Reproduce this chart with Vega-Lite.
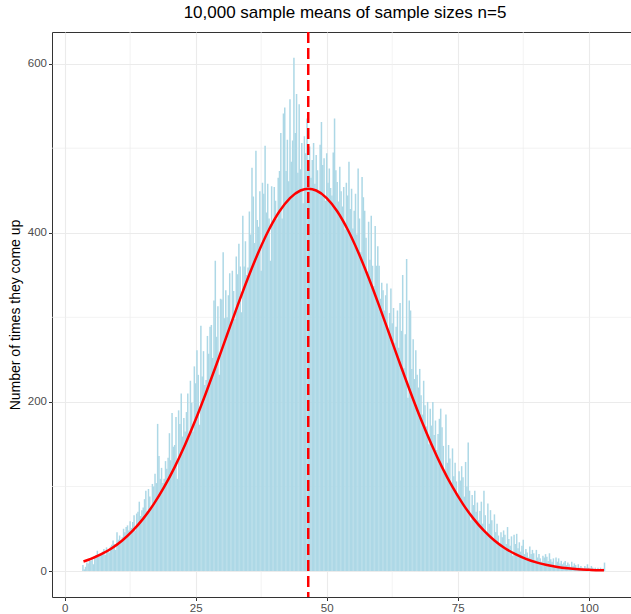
{
  "$schema": "https://vega.github.io/schema/vega-lite/v6.json",
  "width": 579,
  "height": 565,
  "autosize": {"type": "none"},
  "padding": {"left": 52, "top": 32, "right": 0, "bottom": 17},
  "background": "white",
  "title": {
    "text": "10,000 sample means of sample sizes n=5",
    "font": "Liberation Sans",
    "fontSize": 17,
    "fontWeight": "normal",
    "color": "black",
    "anchor": "middle",
    "dx": 3.5,
    "offset": 9
  },
  "config": {
    "view": {"stroke": "#333333", "strokeWidth": 1},
    "axis": {
      "labelFont": "Liberation Sans",
      "titleFont": "Liberation Sans",
      "labelColor": "#4D4D4D",
      "labelFontSize": 11.5,
      "tickColor": "#333333",
      "tickSize": 3.5,
      "tickWidth": 1,
      "labelPadding": 2,
      "domain": false,
      "grid": true,
      "gridColor": "#EBEBEB",
      "gridWidth": 1.1
    }
  },
  "datasets": {
    "bars": [
      {"x":3.5,"n":7},{"x":3.75,"n":2},
      {"x":4,"n":5},{"x":4.25,"n":10},{"x":4.5,"n":9},{"x":4.75,"n":13},
      {"x":5,"n":12},{"x":5.25,"n":16},{"x":5.5,"n":8},{"x":5.75,"n":16},
      {"x":6,"n":19},{"x":6.25,"n":24},{"x":6.5,"n":17},{"x":6.75,"n":20},
      {"x":7,"n":20},{"x":7.25,"n":23},{"x":7.5,"n":26},{"x":7.75,"n":19},
      {"x":8,"n":28},{"x":8.25,"n":25},{"x":8.5,"n":22},{"x":8.75,"n":29},
      {"x":9,"n":31},{"x":9.25,"n":36},{"x":9.5,"n":32},{"x":9.75,"n":25},
      {"x":10,"n":46},{"x":10.25,"n":37},{"x":10.5,"n":42},{"x":10.75,"n":35},
      {"x":11,"n":40},{"x":11.25,"n":50},{"x":11.5,"n":46},{"x":11.75,"n":52},
      {"x":12,"n":54},{"x":12.25,"n":48},{"x":12.5,"n":59},{"x":12.75,"n":51},
      {"x":13,"n":58},{"x":13.25,"n":66},{"x":13.5,"n":48},{"x":13.75,"n":68},
      {"x":14,"n":70},{"x":14.25,"n":82},{"x":14.5,"n":65},{"x":14.75,"n":72},
      {"x":15,"n":75},{"x":15.25,"n":85},{"x":15.5,"n":95},{"x":15.75,"n":71},
      {"x":16,"n":97},{"x":16.25,"n":88},{"x":16.5,"n":76},{"x":16.75,"n":103},
      {"x":17,"n":100},{"x":17.25,"n":115},{"x":17.5,"n":104},{"x":17.75,"n":174},
      {"x":18,"n":136},{"x":18.25,"n":109},{"x":18.5,"n":122},{"x":18.75,"n":104},
      {"x":19,"n":109},{"x":19.25,"n":130},{"x":19.5,"n":121},{"x":19.75,"n":134},
      {"x":20,"n":163},{"x":20.25,"n":131},{"x":20.5,"n":187},{"x":20.75,"n":147},
      {"x":21,"n":149},{"x":21.25,"n":182},{"x":21.5,"n":109},{"x":21.75,"n":190},
      {"x":22,"n":174},{"x":22.25,"n":210},{"x":22.5,"n":159},{"x":22.75,"n":181},
      {"x":23,"n":165},{"x":23.25,"n":188},{"x":23.5,"n":210},{"x":23.75,"n":158},
      {"x":24,"n":225},{"x":24.25,"n":199},{"x":24.5,"n":165},{"x":24.75,"n":242},
      {"x":25,"n":222},{"x":25.25,"n":261},{"x":25.5,"n":232},{"x":25.75,"n":173},
      {"x":26,"n":290},{"x":26.25,"n":230},{"x":26.5,"n":260},{"x":26.75,"n":220},
      {"x":27,"n":226},{"x":27.25,"n":278},{"x":27.5,"n":257},{"x":27.75,"n":289},
      {"x":28,"n":291},{"x":28.25,"n":252},{"x":28.5,"n":320},{"x":28.75,"n":367},
      {"x":29,"n":277},{"x":29.25,"n":313},{"x":29.5,"n":232},{"x":29.75,"n":322},
      {"x":30,"n":321},{"x":30.25,"n":377},{"x":30.5,"n":299},{"x":30.75,"n":332},
      {"x":31,"n":300},{"x":31.25,"n":326},{"x":31.5,"n":352},{"x":31.75,"n":291},
      {"x":32,"n":355},{"x":32.25,"n":331},{"x":32.5,"n":298},{"x":32.75,"n":372},
      {"x":33,"n":351},{"x":33.25,"n":387},{"x":33.5,"n":360},{"x":33.75,"n":306},
      {"x":34,"n":420},{"x":34.25,"n":360},{"x":34.5,"n":390},{"x":34.75,"n":350},
      {"x":35,"n":359},{"x":35.25,"n":425},{"x":35.5,"n":398},{"x":35.75,"n":477},
      {"x":36,"n":443},{"x":36.25,"n":388},{"x":36.5,"n":497},{"x":36.75,"n":415},
      {"x":37,"n":407},{"x":37.25,"n":449},{"x":37.5,"n":355},{"x":37.75,"n":459},
      {"x":38,"n":446},{"x":38.25,"n":503},{"x":38.5,"n":424},{"x":38.75,"n":458},
      {"x":39,"n":417},{"x":39.25,"n":367},{"x":39.5,"n":455},{"x":39.75,"n":410},
      {"x":40,"n":454},{"x":40.25,"n":438},{"x":40.5,"n":416},{"x":40.75,"n":465},
      {"x":41,"n":473},{"x":41.25,"n":518},{"x":41.5,"n":417},{"x":41.75,"n":541},
      {"x":42,"n":548},{"x":42.25,"n":473},{"x":42.5,"n":510},{"x":42.75,"n":461},
      {"x":43,"n":558},{"x":43.25,"n":484},{"x":43.5,"n":509},{"x":43.75,"n":607},
      {"x":44,"n":518},{"x":44.25,"n":564},{"x":44.5,"n":471},{"x":44.75,"n":552},
      {"x":45,"n":475},{"x":45.25,"n":506},{"x":45.5,"n":435},{"x":45.75,"n":514},
      {"x":46,"n":494},{"x":46.25,"n":535},{"x":46.5,"n":477},{"x":46.75,"n":502},
      {"x":47,"n":465},{"x":47.25,"n":486},{"x":47.5,"n":506},{"x":47.75,"n":458},
      {"x":48,"n":492},{"x":48.25,"n":474},{"x":48.5,"n":450},{"x":48.75,"n":504},
      {"x":49,"n":531},{"x":49.25,"n":480},{"x":49.5,"n":488},{"x":49.75,"n":438},
      {"x":50,"n":494},{"x":50.25,"n":459},{"x":50.5,"n":476},{"x":50.75,"n":453},
      {"x":51,"n":444},{"x":51.25,"n":495},{"x":51.5,"n":535},{"x":51.75,"n":474},
      {"x":52,"n":460},{"x":52.25,"n":437},{"x":52.5,"n":478},{"x":52.75,"n":449},
      {"x":53,"n":431},{"x":53.25,"n":454},{"x":53.5,"n":404},{"x":53.75,"n":459},
      {"x":54,"n":444},{"x":54.25,"n":484},{"x":54.5,"n":428},{"x":54.75,"n":452},
      {"x":55,"n":405},{"x":55.25,"n":426},{"x":55.5,"n":446},{"x":55.75,"n":398},
      {"x":56,"n":476},{"x":56.25,"n":417},{"x":56.5,"n":377},{"x":56.75,"n":466},
      {"x":57,"n":442},{"x":57.25,"n":426},{"x":57.5,"n":394},{"x":57.75,"n":354},
      {"x":58,"n":413},{"x":58.25,"n":368},{"x":58.5,"n":420},{"x":58.75,"n":361},
      {"x":59,"n":337},{"x":59.25,"n":408},{"x":59.5,"n":361},{"x":59.75,"n":384},
      {"x":60,"n":361},{"x":60.25,"n":322},{"x":60.5,"n":341},{"x":60.75,"n":332},
      {"x":61,"n":308},{"x":61.25,"n":326},{"x":61.5,"n":340},{"x":61.75,"n":285},
      {"x":62,"n":305},{"x":62.25,"n":334},{"x":62.5,"n":293},{"x":62.75,"n":311},
      {"x":63,"n":270},{"x":63.25,"n":289},{"x":63.5,"n":308},{"x":63.75,"n":264},
      {"x":64,"n":317},{"x":64.25,"n":284},{"x":64.5,"n":350},{"x":64.75,"n":240},
      {"x":65,"n":280},{"x":65.25,"n":369},{"x":65.5,"n":205},{"x":65.75,"n":320},
      {"x":66,"n":308},{"x":66.25,"n":239},{"x":66.5,"n":274},{"x":66.75,"n":227},
      {"x":67,"n":261},{"x":67.25,"n":232},{"x":67.5,"n":217},{"x":67.75,"n":239},
      {"x":68,"n":208},{"x":68.25,"n":185},{"x":68.5,"n":225},{"x":68.75,"n":196},
      {"x":69,"n":171},{"x":69.25,"n":200},{"x":69.5,"n":150},{"x":69.75,"n":192},
      {"x":70,"n":172},{"x":70.25,"n":200},{"x":70.5,"n":161},{"x":70.75,"n":178},
      {"x":71,"n":143},{"x":71.25,"n":162},{"x":71.5,"n":180},{"x":71.75,"n":192},
      {"x":72,"n":170},{"x":72.25,"n":148},{"x":72.5,"n":118},{"x":72.75,"n":185},
      {"x":73,"n":128},{"x":73.25,"n":149},{"x":73.5,"n":133},{"x":73.75,"n":101},
      {"x":74,"n":145},{"x":74.25,"n":112},{"x":74.5,"n":128},{"x":74.75,"n":106},
      {"x":75,"n":91},{"x":75.25,"n":118},{"x":75.5,"n":107},{"x":75.75,"n":124},
      {"x":76,"n":111},{"x":76.25,"n":88},{"x":76.5,"n":129},{"x":76.75,"n":100},
      {"x":77,"n":152},{"x":77.25,"n":95},{"x":77.5,"n":60},{"x":77.75,"n":90},
      {"x":78,"n":78},{"x":78.25,"n":95},{"x":78.5,"n":70},{"x":78.75,"n":81},
      {"x":79,"n":60},{"x":79.25,"n":71},{"x":79.5,"n":82},{"x":79.75,"n":56},
      {"x":80,"n":95},{"x":80.25,"n":66},{"x":80.5,"n":46},{"x":80.75,"n":80},
      {"x":81,"n":56},{"x":81.25,"n":72},{"x":81.5,"n":60},{"x":81.75,"n":36},
      {"x":82,"n":67},{"x":82.25,"n":46},{"x":82.5,"n":56},{"x":82.75,"n":42},
      {"x":83,"n":33},{"x":83.25,"n":46},{"x":83.5,"n":40},{"x":83.75,"n":48},
      {"x":84,"n":43},{"x":84.25,"n":32},{"x":84.5,"n":52},{"x":84.75,"n":38},
      {"x":85,"n":30},{"x":85.25,"n":41},{"x":85.5,"n":18},{"x":85.75,"n":43},
      {"x":86,"n":32},{"x":86.25,"n":44},{"x":86.5,"n":27},{"x":86.75,"n":34},
      {"x":87,"n":23},{"x":87.25,"n":30},{"x":87.5,"n":37},{"x":87.75,"n":20},
      {"x":88,"n":26},{"x":88.25,"n":22},{"x":88.5,"n":16},{"x":88.75,"n":29},
      {"x":89,"n":20},{"x":89.25,"n":25},{"x":89.5,"n":21},{"x":89.75,"n":13},
      {"x":90,"n":25},{"x":90.25,"n":16},{"x":90.5,"n":20},{"x":90.75,"n":15},
      {"x":91,"n":11},{"x":91.25,"n":18},{"x":91.5,"n":16},{"x":91.75,"n":20},
      {"x":92,"n":17},{"x":92.25,"n":12},{"x":92.5,"n":21},{"x":92.75,"n":14},
      {"x":93,"n":11},{"x":93.25,"n":15},{"x":93.5,"n":6},{"x":93.75,"n":16},
      {"x":94,"n":11},{"x":94.25,"n":15},{"x":94.5,"n":9},{"x":94.75,"n":12},
      {"x":95,"n":8},{"x":95.25,"n":10},{"x":95.5,"n":12},{"x":95.75,"n":7},
      {"x":96,"n":10},{"x":96.25,"n":8},{"x":96.5,"n":5},{"x":96.75,"n":11},
      {"x":97,"n":6},{"x":97.25,"n":9},{"x":97.5,"n":7},{"x":97.75,"n":3},
      {"x":98,"n":8},{"x":98.25,"n":4},{"x":98.5,"n":6},{"x":98.75,"n":4},
      {"x":99,"n":3},{"x":99.25,"n":6},{"x":99.5,"n":4},{"x":99.75,"n":8},
      {"x":100,"n":4},{"x":100.25,"n":3},{"x":100.5,"n":6},{"x":100.75,"n":4},
      {"x":101,"n":2},{"x":101.25,"n":4},{"x":101.5,"n":1},{"x":101.75,"n":4},
      {"x":102,"n":2},{"x":102.25,"n":4},{"x":102.5,"n":2},{"x":102.75,"n":3},
      {"x":103,"n":10}
    ],
    "curve": [
      {"x":3.6,"y":11.3},{"x":5,"y":14.4},{"x":7,"y":19.9},{"x":9,"y":27},{"x":11,"y":36.2},
      {"x":13,"y":47.8},{"x":15,"y":62},{"x":17,"y":79.1},{"x":19,"y":99.4},{"x":21,"y":122.9},
      {"x":23,"y":149.6},{"x":25,"y":179.1},{"x":27,"y":211.1},{"x":29,"y":244.8},{"x":31,"y":279.4},
      {"x":33,"y":313.8},{"x":35,"y":346.8},{"x":37,"y":377.2},{"x":39,"y":403.8},{"x":41,"y":425.4},
      {"x":43,"y":441},{"x":45,"y":450},{"x":46.5,"y":452},{"x":48,"y":450},{"x":50,"y":441},
      {"x":52,"y":425.4},{"x":54,"y":403.8},{"x":56,"y":377.2},{"x":58,"y":346.8},{"x":60,"y":313.8},
      {"x":62,"y":279.4},{"x":64,"y":244.8},{"x":66,"y":211.1},{"x":68,"y":179.1},{"x":70,"y":149.6},
      {"x":72,"y":122.9},{"x":74,"y":99.4},{"x":76,"y":79.1},{"x":78,"y":62},{"x":80,"y":47.8},
      {"x":82,"y":36.2},{"x":84,"y":27},{"x":86,"y":19.9},{"x":88,"y":14.4},{"x":90,"y":10.2},
      {"x":92,"y":7.2},{"x":94,"y":4.9},{"x":96,"y":3.3},{"x":98,"y":2.2},{"x":100,"y":1.5},
      {"x":102,"y":0.9},{"x":102.9,"y":0.8}
    ],
    "minorX": [{"v":12.5},{"v":37.5},{"v":62.5},{"v":87.5}],
    "minorY": [{"v":100},{"v":300},{"v":500}]
  },
  "layer": [
    {
      "data": {"name": "minorX"},
      "mark": {"type": "rule", "color": "#EEEEEE", "strokeWidth": 0.7},
      "encoding": {
        "x": {"field": "v", "type": "quantitative", "scale": {"domain": [-1.45, 107.1], "nice": false, "zero": false}, "axis": {"values": [0, 25, 50, 75, 100], "title": null}}
      }
    },
    {
      "data": {"name": "minorY"},
      "mark": {"type": "rule", "color": "#EEEEEE", "strokeWidth": 0.7},
      "encoding": {
        "y": {"field": "v", "type": "quantitative", "scale": {"domain": [-30.7, 637.4], "nice": false, "zero": false},
          "axis": {"values": [0, 200, 400, 600], "title": "Number of times they come up", "titleFontSize": 14, "titleFontWeight": "normal", "titleColor": "black", "titleX": -37, "titleY": 282.5, "titleAngle": -90, "titleAlign": "center", "titleBaseline": "middle"}}
      }
    },
    {
      "data": {"name": "bars"},
      "mark": {"type": "bar", "color": "#ADD8E6", "size": 1.5, "orient": "vertical"},
      "encoding": {
        "x": {"field": "x", "type": "quantitative"},
        "y": {"field": "n", "type": "quantitative"},
        "y2": {"datum": 0}
      }
    },
    {
      "data": {"name": "curve"},
      "mark": {"type": "line", "color": "#FF0000", "strokeWidth": 2.5, "interpolate": "monotone"},
      "encoding": {
        "x": {"field": "x", "type": "quantitative"},
        "y": {"field": "y", "type": "quantitative"}
      }
    },
    {
      "data": {"values": [{}]},
      "mark": {"type": "rule", "color": "#FF0000", "strokeWidth": 2.5, "strokeDash": [11, 5]},
      "encoding": {
        "x": {"datum": 46.48, "type": "quantitative"}
      }
    }
  ]
}
